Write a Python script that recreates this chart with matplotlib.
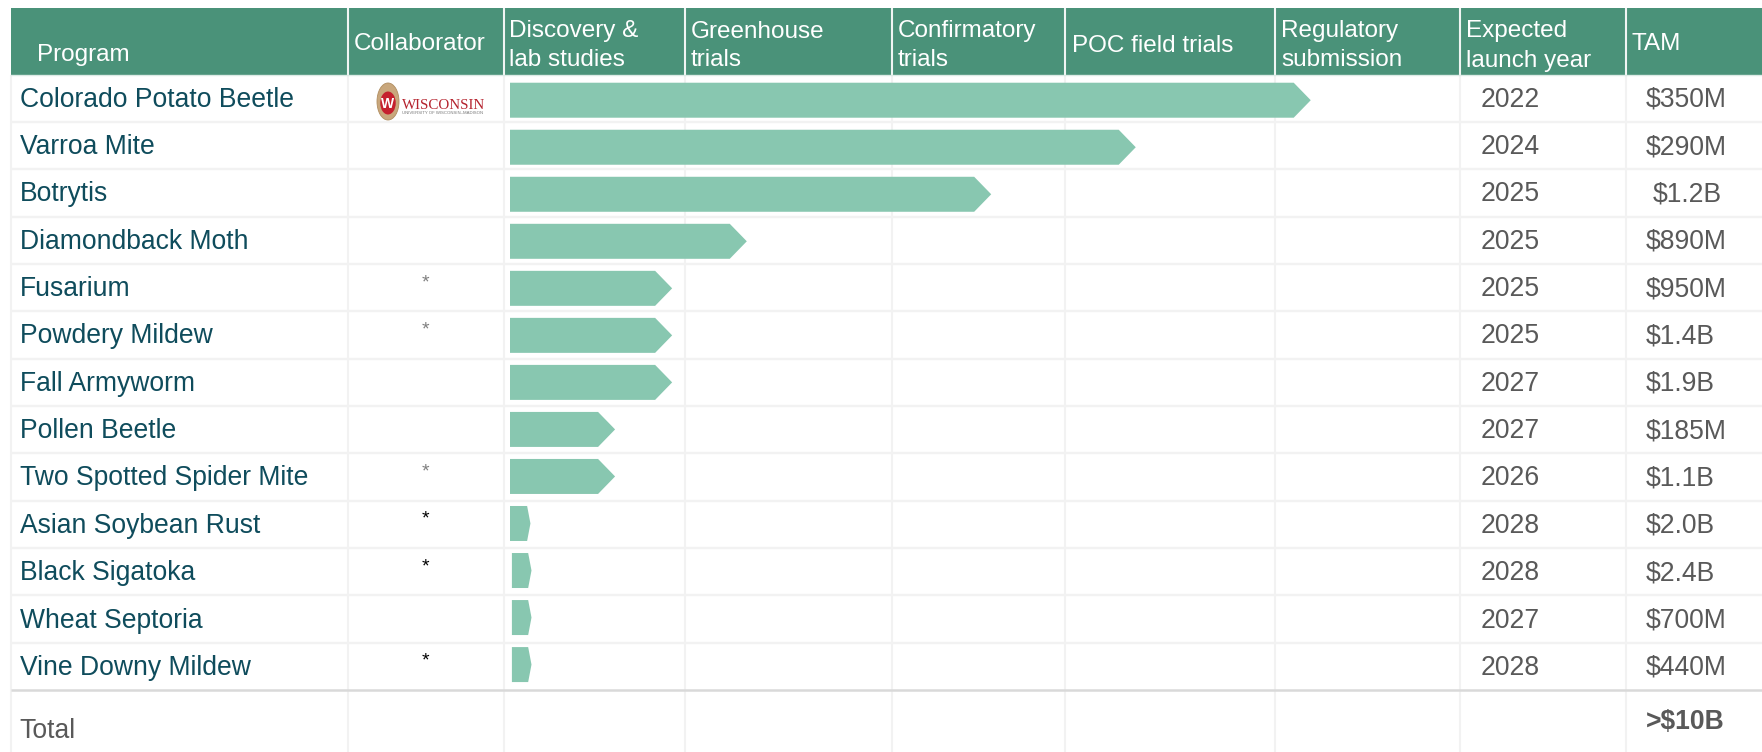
import matplotlib
matplotlib.use("Agg")
import matplotlib.pyplot as plt
from matplotlib.patches import Polygon, Ellipse, Rectangle

# ---------- data ----------
programs = ["Colorado Potato Beetle", "Varroa Mite", "Botrytis", "Diamondback Moth",
            "Fusarium", "Powdery Mildew", "Fall Armyworm", "Pollen Beetle",
            "Two Spotted Spider Mite", "Asian Soybean Rust", "Black Sigatoka",
            "Wheat Septoria", "Vine Downy Mildew"]
progress_start = [0, 0, 0, 0, 0, 0, 0, 0, 0, 0, 0.2, 0.2, 0.2]
progress_end = [84.2, 65.8, 50.6, 24.9, 17.05, 17.05, 17.05, 11.05, 11.05, 2.15, 2.26, 2.26, 2.26]
launch_years = ["2022", "2024", "2025", "2025", "2025", "2025", "2027", "2027", "2026",
                "2028", "2028", "2027", "2028"]
tam = ["$350M", "$290M", "$1.2B", "$890M", "$950M", "$1.4B", "$1.9B", "$185M", "$1.1B",
       "$2.0B", "$2.4B", "$700M", "$440M"]
asterisks = {4: "grey", 5: "grey", 8: "grey", 9: "black", 10: "black", 12: "black"}
headers = ["Program", "Collaborator", "Discovery &\nlab studies", "Greenhouse\ntrials",
           "Confirmatory\ntrials", "POC field trials", "Regulatory\nsubmission",
           "Expected\nlaunch year", "TAM"]
total_label = "Total"
total_tam = ">$10B"

# ---------- layout / style ----------
W, H = 1762, 752
FONT = "Liberation Sans"
HEADER_BG = "#4A9279"
BAR = "#88C7B0"
TEAL = "#0F4C5C"
GREY = "#595959"
GRID = "#F2F2F2"
LEFT = 11
col_edges = [LEFT, 348, 503.5, 685, 892, 1065, 1275, 1460, 1626, 1762]
head_x = [37, 354, 509, 691, 898, 1072, 1281, 1466, 1632]
head_y = [53, 42, None, None, None, 43.5, None, None, 42]
top, head_bottom, row_h = 8, 74.5, 47.35
body_bottom = head_bottom + row_h * len(programs)
FS = 19.1
HFS = 17.45

fig = plt.figure(figsize=(W / 100, H / 100), dpi=100, facecolor="white")
ax = fig.add_axes([0, 0, 1, 1])
ax.set_xlim(0, W)
ax.set_ylim(H, 0)
ax.axis("off")

# grid
for i in range(1, len(programs)):
    y = head_bottom + i * row_h
    ax.plot([LEFT, W], [y, y], color=GRID, lw=1.7, solid_capstyle="butt", zorder=1)
for x in col_edges[:-1]:
    ax.plot([x, x], [head_bottom, H], color=GRID, lw=1.5, solid_capstyle="butt", zorder=1)
ax.plot([LEFT, W], [body_bottom, body_bottom], color="#D9D9D9", lw=1.8,
        solid_capstyle="butt", zorder=2)

# header band
ax.add_patch(Rectangle((LEFT, top), W - LEFT, head_bottom - top, fc=HEADER_BG, ec="none", zorder=2))
for x in col_edges[1:-1]:
    ax.plot([x, x], [top, head_bottom], color="#F0F5F3", lw=1.5, solid_capstyle="butt", zorder=3)
ax.plot([LEFT, W], [head_bottom + 0.5] * 2, color="#DDEBE6", lw=1.0, zorder=3)

for label, x, y in zip(headers, head_x, head_y):
    lines = label.split("\n")
    if len(lines) == 2:
        ax.text(x, 37.5, lines[0], color="white", fontsize=HFS, family=FONT, va="baseline", zorder=4)
        ax.text(x, 66.5, lines[1], color="white", fontsize=HFS, family=FONT, va="baseline", zorder=4)
    else:
        ax.text(x, y + 8.5, label, color="white", fontsize=HFS, family=FONT, va="baseline", zorder=4)

# rows
for i, (p, yr, t) in enumerate(zip(programs, launch_years, tam)):
    yc = head_bottom + (i + 0.5) * row_h
    ax.text(20, yc + 8.5, p, color=TEAL, fontsize=FS, family=FONT, va="baseline", zorder=4)
    ax.text(1481, yc + 8.5, yr, color=GREY, fontsize=FS, family=FONT, va="baseline", zorder=4)
    ax.text(1653 if t == "$1.2B" else 1646, yc + 8.5, t, color=GREY, fontsize=FS, family=FONT,
            va="baseline", zorder=4)
    if i in asterisks:
        ax.text(425, yc - 0.5, "*", color={"grey": "#7F7F7F", "black": "black"}[asterisks[i]],
                fontsize=14, family=FONT, ha="center", va="baseline", zorder=4)

# totals
ax.text(19.5, 738, total_label, color=GREY, fontsize=FS, family=FONT, va="baseline", zorder=4)
ax.text(1646, 729.5, total_tam, color=GREY, fontsize=FS, family=FONT, weight="bold", va="baseline", zorder=4)

# logo
ax.add_patch(Ellipse((388, 101.5), 22, 37, fc="#C9A77C", ec="#B08D60", lw=0.6, zorder=4))
ax.add_patch(Ellipse((388, 103), 15.5, 23, fc="#C5202E", ec="none", zorder=5))
ax.text(388, 108.5, "W", color="white", fontsize=10, family=FONT, weight="bold", ha="center",
        va="baseline", zorder=6)
ax.text(402, 109, "WISCONSIN", color="#B5232E", fontsize=10.8, family="Liberation Serif",
        va="baseline", zorder=5)
ax.text(402.5, 114.5, "UNIVERSITY OF WISCONSIN\u2013MADISON", color="#777777", fontsize=3.05, family=FONT,
        va="baseline", zorder=5)

# bars: own axes, x = % of pipeline, y = row index
x0, x1 = 510, 1461
bar_top, bar_pitch = 76.7, 47.03
bx = fig.add_axes([x0 / W, 1 - (bar_top + bar_pitch * len(programs)) / H, (x1 - x0) / W,
                   bar_pitch * len(programs) / H])
bx.set_xlim(0, 100)
bx.set_ylim(len(programs), 0)
bx.axis("off")
bx.patch.set_alpha(0)
BAR_H = 0.744
for i, (s, e) in enumerate(zip(progress_start, progress_end)):
    head = 1.79 if e - s > 5 else 0.35
    yc = i + 0.5
    bx.add_patch(Polygon([(s, yc - BAR_H / 2), (e - head, yc - BAR_H / 2), (e, yc),
                          (e - head, yc + BAR_H / 2), (s, yc + BAR_H / 2)],
                         closed=True, fc=BAR, ec="none"))

fig.savefig("out.png", dpi=100)
